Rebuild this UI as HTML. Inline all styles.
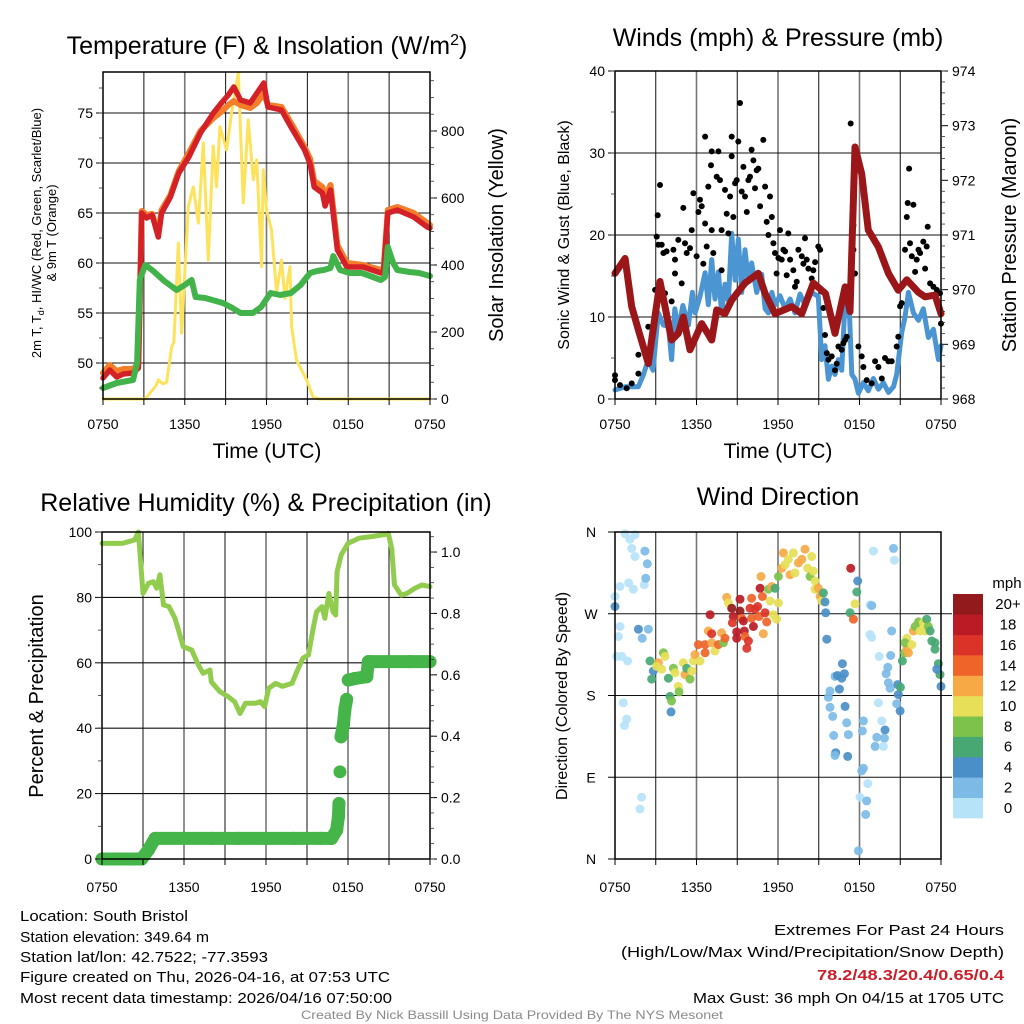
<!DOCTYPE html>
<html><head><meta charset="utf-8"><style>
html,body{margin:0;padding:0;background:#fff;}
svg{display:block;font-family:"Liberation Sans",sans-serif;}
</style></head><body>
<svg id="fig" width="1024" height="1024" viewBox="0 0 1024 1024" xmlns="http://www.w3.org/2000/svg">
<rect width="1024" height="1024" fill="#fff"/>
<g id="texts" font-family="Liberation Sans, sans-serif" fill="#000">
 <text x="267" y="54" font-size="25" text-anchor="middle">Temperature (F) &amp; Insolation (W/m<tspan dy="-9" font-size="16">2</tspan><tspan dy="9">)</tspan></text>
 <text x="778" y="46" font-size="25" text-anchor="middle">Winds (mph) &amp; Pressure (mb)</text>
 <text x="266" y="511" font-size="25" text-anchor="middle">Relative Humidity (%) &amp; Precipitation (in)</text>
 <text x="778" y="505" font-size="25" text-anchor="middle">Wind Direction</text>
 <text x="267" y="458" font-size="21" text-anchor="middle">Time (UTC)</text>
 <text x="778" y="458" font-size="21" text-anchor="middle">Time (UTC)</text>
 <text transform="translate(41,233) rotate(-90)" font-size="13" text-anchor="middle">2m T, T<tspan font-size="9" dy="3">d</tspan><tspan dy="-3">, HI/WC (Red, Green, Scarlet/Blue)</tspan></text>
 <text transform="translate(56,233) rotate(-90)" font-size="13" text-anchor="middle">&amp; 9m T (Orange)</text>
 <text transform="translate(503,235) rotate(-90)" font-size="20" text-anchor="middle">Solar Insolation (Yellow)</text>
 <text transform="translate(569,235) rotate(-90)" font-size="16" text-anchor="middle">Sonic Wind &amp; Gust (Blue, Black)</text>
 <text transform="translate(1016,235) rotate(-90)" font-size="20" text-anchor="middle">Station Pressure (Maroon)</text>
 <text transform="translate(43,696) rotate(-90)" font-size="20" text-anchor="middle">Percent &amp; Precipitation</text>
 <text transform="translate(567,696) rotate(-90)" font-size="16" text-anchor="middle">Direction (Colored By Speed)</text>
 <text x="20" y="921" font-size="15" textLength="168" lengthAdjust="spacingAndGlyphs">Location: South Bristol</text>
 <text x="20" y="942" font-size="15" textLength="189" lengthAdjust="spacingAndGlyphs">Station elevation: 349.64 m</text>
 <text x="20" y="962" font-size="15" textLength="248" lengthAdjust="spacingAndGlyphs">Station lat/lon: 42.7522; -77.3593</text>
 <text x="20" y="982" font-size="15" textLength="370" lengthAdjust="spacingAndGlyphs">Figure created on Thu, 2026-04-16, at 07:53 UTC</text>
 <text x="20" y="1003" font-size="15" textLength="372" lengthAdjust="spacingAndGlyphs">Most recent data timestamp: 2026/04/16 07:50:00</text>
 <text x="1004" y="935" font-size="15" text-anchor="end" textLength="230" lengthAdjust="spacingAndGlyphs">Extremes For Past 24 Hours</text>
 <text x="1004" y="957" font-size="15" text-anchor="end" textLength="383" lengthAdjust="spacingAndGlyphs">(High/Low/Max Wind/Precipitation/Snow Depth)</text>
 <text x="1004" y="980" font-size="15" font-weight="bold" fill="#c8202a" text-anchor="end" textLength="187" lengthAdjust="spacingAndGlyphs">78.2/48.3/20.4/0.65/0.4</text>
 <text x="1004" y="1003" font-size="15" text-anchor="end" textLength="311" lengthAdjust="spacingAndGlyphs">Max Gust: 36 mph On 04/15 at 1705 UTC</text>
 <text x="512" y="1019" font-size="12" fill="#8a8a8a" text-anchor="middle" textLength="422" lengthAdjust="spacingAndGlyphs">Created By Nick Bassill Using Data Provided By The NYS Mesonet</text>
 <text x="1007" y="588" font-size="15" text-anchor="middle">mph</text>
</g>
</svg>
<script>
// ---------- data ----------
const xTickLabels = ["0750","1350","1950","0150","0750"];
const tempTicks = [50,55,60,65,70,75];
const insolTicks = [0,200,400,600,800];
const windTicks = [0,10,20,30,40];
const presTicks = [968,969,970,971,972,973,974];
const rhTicks = [0,20,40,60,80,100];
const precipTicks = [0,0.2,0.4,0.6,0.8,1.0];
const dirTicks = [0,90,180,270,360];
const dirLabels = ["N","E","S","W","N"];

const tempHours = [0,0.5,1,1.5,2.2,2.6,2.84,3.2,3.6,4.06,4.3,4.95,5.56,6.3,7.15,8.1,8.75,9.2,9.6,10.1,10.8,11.3,11.8,12.1,13.1,13.8,14.8,15.2,15.5,16.1,16.3,16.7,17.2,17.9,19.1,20.4,20.6,20.9,21.6,22.8,23.8,24];
const temp2m = [48.5,49.3,48.6,48.9,49.0,49.5,65,64.5,64.8,62.6,65,66.6,69,70.6,73,75,76.1,76.8,77.6,76.3,76,77,78,75.6,75.3,73.6,71.3,69.9,67.6,67,65.7,67.3,61.3,59.6,59.6,59,59.3,65,65.3,64.6,63.6,63.5];
const temp9m = [49.0,49.8,49.2,49.4,49.4,49.9,65.2,64.8,64.9,63.0,65.3,66.8,69.2,71.0,73.2,74.5,75.2,75.8,76.2,75.8,75.5,76.0,77.0,75.8,75.6,74.0,71.6,70.4,68.2,67.6,66.5,67.8,61.8,60.0,59.8,59.3,59.5,65.3,65.6,65.0,64.0,63.8];
const dewHours = [0,1,2.2,2.5,2.7,3.1,3.6,4.5,5.4,6.0,6.5,6.8,7.5,8.8,9.5,10.1,11,11.6,12.3,13,13.8,14.5,15.2,15.7,16.2,16.7,16.9,17.4,18.1,19,20.4,20.7,20.9,21.3,21.6,22.5,23.2,24];
const dewVals = [47.5,48.0,48.3,50,58.3,59.8,59.3,58.2,57.3,57.8,58.3,56.6,56.5,56,55.5,55,55,55.6,57,56.8,57,57.8,59,59.2,59.3,59.5,60.7,59.3,59,59,58.3,58.6,61.6,60,59.3,59.1,59,58.7];
const insolHours = [0,3.1,3.45,3.9,4.06,4.4,4.67,5.04,5.2,5.53,5.77,6.26,6.63,7.0,7.36,7.73,8.09,8.34,8.58,9.07,9.44,9.93,10.3,10.66,11.03,11.28,11.64,11.76,12.0,12.37,12.74,13.1,13.35,13.72,13.84,14.2,14.94,15.43,15.9,24];
const insolVals = [0,0,18,40,57,45,50,156,170,465,197,574,633,525,764,415,755,633,813,743,854,973,585,833,654,714,395,684,565,505,316,415,300,395,216,116,57,5,0,0];

const windHours = [0,0.74,1.72,2.1,2.45,2.8,3.19,3.56,3.93,4.17,4.4,4.66,5.0,5.4,5.7,5.9,6.26,6.63,6.87,7.12,7.36,7.61,7.85,8.1,8.35,8.59,8.84,9.08,9.33,9.57,9.82,10.06,10.43,10.8,11.05,11.29,11.54,11.78,12.15,12.52,12.89,13.25,13.62,13.99,14.48,14.97,15.22,15.46,15.71,15.95,16.2,16.45,16.69,16.94,17.18,17.43,17.67,17.92,18.29,18.65,19.02,19.39,19.76,20.13,20.5,20.74,21.11,21.35,21.6,21.97,22.34,22.7,23.07,23.44,23.81,24];
const windVals = [1.1,1.5,1.5,3.0,4.8,3.5,10.5,9.0,8.9,4.8,11,8.5,11.4,9.0,13,10.5,12.5,15.4,11.5,17.0,12.2,15.5,10.5,14,12.0,20.2,14.5,19.5,13,18.2,14.5,16.6,13,15.2,11,10.5,13,11.5,12.6,11,12.2,10.5,12.8,11.5,13,12.5,4.8,6.5,2.4,4.0,3.0,4.8,3.5,12,13.8,3.0,2.4,0.7,2.0,1.0,2.5,1.2,2.0,0.8,1.5,3.0,8.1,10,13,10.5,9.6,11,7.5,8.5,4.8,6.5];
const presHours = [0,0.74,1.23,1.72,2.45,3.31,3.68,4.17,4.66,5.03,5.52,6.38,7.12,7.49,8.1,8.59,9.57,10.55,11.05,11.78,13.01,13.75,14.6,15.5,16.2,16.94,17.3,17.67,18.16,18.65,19.39,20.13,20.86,21.48,22.34,22.83,23.56,24];
const presVals = [970.30,970.57,969.69,969.26,968.65,970.15,969.69,969.08,969.2,969.5,968.9,969.38,969.08,969.63,969.56,969.81,970.12,970.30,969.93,969.56,969.69,969.56,970.12,969.93,969.2,970.05,969.6,972.61,972.12,971.09,970.78,970.30,969.99,970.18,969.95,969.87,969.9,969.56];
const gusts = [[0,2.9],[0,2.3],[0.37,1.7],[0.86,1.3],[1.23,1.9],[1.72,3.1],[1.72,5.4],[2.45,8.8],[2.95,13.3],[3.07,19.8],[3.14,22.4],[3.31,26.1],[3.19,18.8],[3.44,18.8],[3.56,17.8],[3.8,18.0],[3.68,12.9],[4.17,11.9],[4.3,18.2],[4.42,15.3],[4.42,17.0],[4.66,19.4],[5.03,23.3],[5.15,19.0],[4.91,14.1],[5.28,17.8],[5.52,18.4],[5.65,20.6],[5.77,25.1],[6.01,17.4],[6.14,22.8],[6.26,24.3],[6.38,23.5],[6.5,16.5],[6.63,21.4],[6.75,18.6],[6.63,32.0],[6.87,25.9],[7.07,28.5],[7.12,30.2],[7.12,20.6],[7.24,17.8],[7.49,27.1],[7.61,30.2],[7.73,26.7],[7.85,15.7],[7.85,20.6],[8.1,25.5],[8.22,22.6],[8.35,20.2],[8.47,24.7],[8.59,32.0],[8.59,29.6],[8.71,22.2],[8.84,26.3],[8.96,26.7],[9.2,36.1],[9.08,31.4],[9.33,25.3],[9.45,28.3],[9.57,24.7],[9.7,22.8],[9.82,26.7],[9.94,27.1],[10.06,30.4],[10.19,29.1],[10.31,25.7],[10.43,27.9],[10.55,28.1],[10.68,23.5],[10.92,31.6],[11.05,25.9],[11.17,21.6],[11.29,20.0],[11.41,24.7],[11.54,22.2],[11.66,19.0],[11.78,17.8],[11.9,15.3],[12.03,17.2],[12.15,20.6],[12.27,17.0],[12.4,18.2],[12.52,18.0],[12.64,15.1],[12.76,20.2],[12.89,17.0],[13.13,15.7],[13.25,13.7],[13.38,14.3],[13.5,18.2],[13.75,17.4],[13.87,16.5],[13.99,19.6],[14.11,17.0],[14.24,15.9],[14.48,14.7],[14.6,15.7],[14.73,16.7],[14.97,18.6],[15.1,18.2],[15.22,13.1],[15.34,11.1],[15.46,7.8],[15.59,5.6],[15.71,4.8],[15.95,5.2],[16.2,3.5],[16.32,4.3],[16.45,6.4],[16.69,6.0],[16.81,6.8],[16.94,7.2],[17.06,7.6],[17.35,33.6],[17.55,21.2],[17.55,18.2],[17.67,15.3],[17.92,6.4],[18.16,5.2],[18.29,3.9],[18.53,2.3],[18.9,1.9],[19.15,4.6],[19.39,3.9],[19.64,2.5],[19.88,5.0],[20.13,4.6],[20.37,4.6],[20.74,6.4],[20.86,7.6],[20.99,11.3],[21.11,11.7],[21.35,18.2],[21.48,22.2],[21.55,23.9],[21.65,28.1],[21.72,19.0],[21.85,17.4],[21.97,23.7],[22.09,15.5],[22.21,17.0],[22.34,18.2],[22.46,17.8],[22.7,19.2],[22.83,15.9],[22.95,18.6],[23.02,21.0],[23.2,14.1],[23.44,13.7],[23.69,13.3],[23.93,12.9],[24.0,9.2]];

const rhHours = [0,1.5,2.4,2.66,3.0,3.4,3.75,4.0,4.24,4.5,4.9,5.34,5.7,5.95,6.56,7.05,7.4,7.9,8.0,8.63,9.24,9.7,10.1,10.5,11.2,11.6,11.9,12.2,12.7,13.2,13.9,14.2,14.7,15.1,15.5,15.7,16.1,16.3,16.6,16.9,17.1,17.2,17.5,18.0,18.8,19.7,20.8,20.95,21.2,21.4,21.9,22.3,22.9,23.4,24];
const rhVals = [96.5,96.5,97.6,100,81.2,84.3,84.8,82.8,86.9,77.7,77.2,73.6,68.5,64.9,63.9,59.3,56.8,57.8,54.2,51.2,49.6,48.1,44.5,47.6,47.6,48.1,46.6,52.2,53.7,52.8,53.7,56.8,61.4,62.4,71.6,75.6,77.2,73.6,81.2,75.6,74.6,87.9,93,96.5,98.1,98.6,99.3,99.6,95,83.8,80.7,81.2,82.8,83.8,83.3];
const precipHours = [0,1.0,2.0,2.9,3.4,3.88,6,8,10,12,14,16,16.8,17.17,17.3,17.34,17.41,17.49,17.66,17.78,17.9,18.02,18.5,19.37,19.49,21,22.5,24];
const precipVals = [0,0,0,0,0.03,0.067,0.067,0.067,0.067,0.067,0.067,0.067,0.067,0.094,0.138,0.181,0.284,0.398,0.437,0.49,0.52,0.583,0.588,0.594,0.643,0.643,0.643,0.643];

// wind direction obs: [hour, degrees, mph]
const dirObs = [[0.74,358,1],[1.47,357,1],[1.1,352,1],[1.23,342,1],[1.47,333,1],[0.37,300,1],[1.0,304,1],[1.35,297,1],[0,289,1],[2.16,302,1],[0.37,256,1],[0.25,245,1],[0.12,223,1],[0.5,223,1],[0.93,218,1],[2.0,243,3],[0.61,172,1],[0.86,154,1],[0.7,147,1],[1.96,68,1],[1.84,55,1],
[2.2,339,3],[2.38,325,3],[2.26,309,3],[2.45,253,3],[0,278,5],[1.72,253,5],
[2.58,218,7],[2.7,198,7],[2.82,207,5],[3.19,216,13],[3.07,212,11],[3.56,227,9],[3.68,223,11],[3.44,209,11],[3.93,199,7],[4.3,210,9],[4.42,205,11],[4.05,179,7],[4.17,174,9],[4.12,162,5],[4.66,190,11],[4.71,184,9],[5.03,216,11],[5.15,203,13],[5.28,210,7],[5.52,198,9],[5.65,207,11],[5.77,218,11],[5.89,225,13],[6.14,236,15],[6.26,218,11],[6.63,236,15],[6.63,227,15],[6.87,251,13],[7.12,248,17],[7.12,238,13],[7.36,229,11],[7.61,236,15],[7.85,249,13],[7.98,238,9],[8.1,243,15],[7.0,269,19],[8.22,288,13],[8.35,282,11],[8.59,276,21],[8.71,267,19],[8.64,260,17],[8.96,250,19],[8.96,243,19],[9.2,286,19],[9.2,273,21],[9.33,265,15],[9.45,262,19],[9.52,251,19],[9.57,245,15],[9.7,232,17],[9.82,240,17],[9.94,276,17],[10.06,287,15],[10.06,265,15],[10.19,256,19],[10.31,275,17],[10.5,278,17],[10.6,267,15],[10.68,298,19],[10.75,311,13],[10.92,248,13],[10.85,289,15],[11.05,271,17],[11.17,261,15],[11.29,297,9],[11.41,284,11],[11.54,300,13],[11.66,269,11],[11.9,264,11],[12.03,282,11],[12.03,311,9],[11.78,298,7],[12.27,320,13],[12.4,337,13],[12.52,324,11],[12.76,330,11],[12.89,313,13],[13.13,337,11],[13.25,315,11],[13.5,326,13],[13.75,330,13],[13.99,341,13],[14.19,320,11],[14.36,311,9],[14.48,333,11],[14.6,317,11],[14.73,306,11],[14.73,297,11],[14.97,298,13],[15.1,289,13],[15.22,284,11],[15.34,293,7],[15.46,283,5],[15.51,271,5],[15.59,242,5],
[15.83,185,3],[15.71,178,3],[15.83,167,3],[16.03,157,3],[16.2,201,3],[16.37,202,5],[16.52,187,5],[16.69,199,5],[16.74,215,5],[16.89,204,5],[16.94,168,5],[17.06,150,3],[17.18,137,3],[17.13,113,5],[16.25,117,5],[16.2,114,3],[16.1,136,3],[17.35,320,19],[17.87,306,5],[17.8,294,7],[17.67,281,11],[17.3,271,7],[17.55,264,15],
[18.16,97,3],[18.29,100,3],[18.61,83,1],[18.04,68,1],[18.53,64,3],[18.46,49,3],[17.92,9,3],[18.21,141,3],[18.29,152,3],[18.78,280,1],[18.9,279,3],[19.02,339,1],[20.5,342,3],[20.57,329,1],[18.78,247,1],[18.9,244,1],[19.44,223,1],[19.39,172,1],[20.37,251,3],[20.3,224,3],[20.08,211,3],[19.96,204,3],[20.13,194,3],[20.25,188,3],[20.81,192,5],[20.86,181,5],[20.99,163,5],[20.74,171,3],[19.64,152,1],[19.88,142,5],[19.83,133,3],[19.27,134,3],[19.15,124,3],[19.76,124,1],
[21.01,189,7],[21.16,218,7],[21.31,227,9],[21.48,231,13],[21.6,227,13],[21.48,243,11],[21.35,238,9],[21.85,236,11],[21.97,251,13],[22.09,256,9],[22.34,261,9],[22.46,251,11],[22.7,260,11],[22.83,251,11],[22.95,264,7],[23.07,256,9],[23.2,251,7],[23.32,240,7],[23.56,238,7],[23.56,231,7],[23.81,215,7],[23.93,203,7],[23.69,209,5],[24.0,190,5]];
const speedColors = ["#b7e3f8","#7dbbe6","#4a8fc7","#48a874","#7cc24b","#e6df57","#f7a945","#ef6429","#dc3328","#bb1b25","#921a1c"];
const speedLabels = ["0","2","4","6","8","10","12","14","16","18","20+"];

// ---------- drawing ----------
const NS = "http://www.w3.org/2000/svg";
const svg = document.getElementById("fig");
function mk(tag, attrs, parent){
  const e = document.createElementNS(NS, tag);
  for (const k in attrs) e.setAttribute(k, attrs[k]);
  (parent || svg).appendChild(e);
  return e;
}
function lin(d0,d1,r0,r1){ return v => r0 + (v-d0)/(d1-d0)*(r1-r0); }

const P1 = {x0:103,x1:430,y0:72,y1:399};
const P2 = {x0:615,x1:941,y0:71,y1:399};
const P3 = {x0:102,x1:430,y0:532,y1:859};
const P4 = {x0:615,x1:941,y0:532,y1:859};

function frame(P, name, hLines, extendRight){
  const g = mk("g", {});
  
  
  const xs = lin(0,24,P.x0,P.x1);
  for (let h=3; h<24; h+=3){
    const l = mk("line", {x1:xs(h),x2:xs(h),y1:P.y0,y2:P.y1,stroke: h%6===0 ? "#777" : "#111","stroke-width": h%6===0 ? 1.6 : 1}, g);
    
    
  }
  hLines.forEach(y => {
    const l = mk("line", {x1:P.x0,x2:P.x1 + (extendRight||0),y1:y,y2:y,stroke:"#111","stroke-width":1.1}, g);
    
    
  });
  return xs;
}
function border(P, name){
  const r = mk("rect", {x:P.x0,y:P.y0,width:P.x1-P.x0,height:P.y1-P.y0,fill:"none",stroke:"#000","stroke-width":1.5});
  
  
}
function xTicks(P, xs, labelY, name){
  xTickLabels.forEach((lab,i) => {
    const x = xs(i*6);
    const t = mk("text", {x:x,y:labelY,"font-size":14,"text-anchor":"middle"});
    t.textContent = lab;
    
    
  });
  for (let h=0; h<=24; h+=3){
    mk("line", {x1:xs(h),x2:xs(h),y1:P.y1,y2:P.y1+6,stroke:"#000","stroke-width":1});
  }
}
function yTicks(vals, ys, x, side, fmt, name, minorStep, dmin, dmax){
  vals.forEach(v => {
    const y = ys(v);
    mk("line", {x1:x, x2: side==="left" ? x-7 : x+7, y1:y, y2:y, stroke:"#000","stroke-width":1});
    const t = mk("text", {x: side==="left" ? x-10 : x+11, y:y+5, "font-size":14, "text-anchor": side==="left" ? "end" : "start"});
    t.textContent = fmt(v);
    
    
  });
  if (minorStep){
    for (let v=dmin; v<=dmax+1e-9; v+=minorStep){
      const y = ys(v);
      mk("line", {x1:x, x2: side==="left" ? x-4 : x+4, y1:y, y2:y, stroke:"#333","stroke-width":0.8});
    }
  }
}
function poly(xsArr, ysArr, xs, ys, stroke, width, name, extra){
  const pts = xsArr.map((h,i) => xs(h).toFixed(1)+","+ys(ysArr[i]).toFixed(1)).join(" ");
  const p = mk("polyline", Object.assign({points:pts,fill:"none",stroke:stroke,"stroke-width":width,"stroke-linejoin":"round","stroke-linecap":"round"}, extra||{}));
  
  
  return p;
}

// Panel 1
{
  const ty = lin(46.4,79.1,P1.y1,P1.y0);
  const iy = lin(0,976,P1.y1,P1.y0);
  const xs = frame(P1, "temperature", tempTicks.map(ty));
  poly(insolHours, insolVals, xs, iy, "#fde35c", 3, "insolation-line");
  poly(tempHours, temp9m, xs, ty, "#f47d2a", 6, "temp-9m-line");
  poly(tempHours, temp2m, xs, ty, "#d42027", 5.5, "temp-2m-line");
  poly(dewHours, dewVals, xs, ty, "#41b34a", 6, "dewpoint-line");
  border(P1, "temperature");
  xTicks(P1, xs, 429, "temperature");
  yTicks(tempTicks, ty, P1.x0, "left", v=>v, "temperature-y", 2.5, 47.5, 77.5);
  yTicks(insolTicks, iy, P1.x1, "right", v=>v, "insolation-y", 50, 0, 950);
}
// Panel 2
{
  const wy = lin(0,40,P2.y1,P2.y0);
  const py = lin(968,974,P2.y1,P2.y0);
  const xs = frame(P2, "winds", [10,20,30].map(wy));
  poly(windHours, windVals, xs, wy, "#4b95d2", 5, "sonic-wind-line");
  gusts.forEach(g => {
    const c = mk("circle", {cx:xs(g[0]).toFixed(1), cy:wy(g[1]).toFixed(1), r:3, fill:"#000"});
    
    
  });
  poly(presHours, presVals, xs, py, "#9b1619", 7, "pressure-line");
  border(P2, "winds");
  xTicks(P2, xs, 429, "winds");
  yTicks(windTicks, wy, P2.x0, "left", v=>v, "wind-y", 5, 0, 40);
  yTicks(presTicks, py, P2.x1, "right", v=>v, "pressure-y", 0.2, 968, 974);
}
// Panel 3
{
  const ry = lin(0,100,P3.y1,P3.y0);
  const py = lin(0,1.0653,P3.y1,P3.y0);
  const xs = frame(P3, "humidity", [20,40,60,80].map(ry));
  poly(rhHours, rhVals, xs, ry, "#92cc4e", 5, "humidity-line");
  for (let i=1;i<precipHours.length;i++){
    if (Math.abs(precipVals[i]-precipVals[i-1]) < 0.06){
      const l = mk("line", {x1:xs(precipHours[i-1]),y1:py(precipVals[i-1]),x2:xs(precipHours[i]),y2:py(precipVals[i]),stroke:"#45b549","stroke-width":13,"stroke-linecap":"round"});
      
      
    }
  }
  precipHours.forEach((h,i) => {
    const c = mk("circle", {cx:xs(h), cy:py(precipVals[i]), r:6.5, fill:"#45b549"});
    
    
  });
  border(P3, "humidity");
  xTicks(P3, xs, 892, "humidity");
  yTicks(rhTicks, ry, P3.x0, "left", v=>v, "humidity-y", 10, 0, 100);
  yTicks(precipTicks, py, P3.x1, "right", v=>v.toFixed(1), "precip-y", 0.05, 0, 1.05);
}
// Panel 4
{
  const dy = lin(0,360,P4.y1,P4.y0);
  const xs = frame(P4, "direction", [90,180,270].map(dy), 11);
  dirObs.forEach(o => {
    const bin = Math.min(10, Math.floor(o[2]/2));
    const c = mk("circle", {cx:xs(o[0]).toFixed(1), cy:dy(o[1]).toFixed(1), r:4.5, fill:speedColors[bin], "fill-opacity":0.92});
    
    
  });
  border(P4, "direction");
  xTicks(P4, xs, 892, "direction");
  dirTicks.forEach((d,i) => {
    const y = dy(d);
    mk("line", {x1:P4.x0,x2:P4.x0-7,y1:y,y2:y,stroke:"#000"});
    const t = mk("text", {x:591, y:y+5, "font-size":14, "text-anchor":"middle"});
    t.textContent = dirLabels[i];
    
    
  });
  const cb0 = 594, cbH = (818-594)/11;
  speedColors.forEach((col,i) => {
    const y = cb0 + (10-i)*cbH;
    const r = mk("rect", {x:953, y:y.toFixed(1), width:30, height:(cbH+0.3).toFixed(1), fill:col});
    
    
    const t = mk("text", {x:1008, y:(y+cbH/2+5).toFixed(1), "font-size":15, "text-anchor":"middle"});
    t.textContent = speedLabels[i];
    
    
  });
}
</script>
</body></html>
